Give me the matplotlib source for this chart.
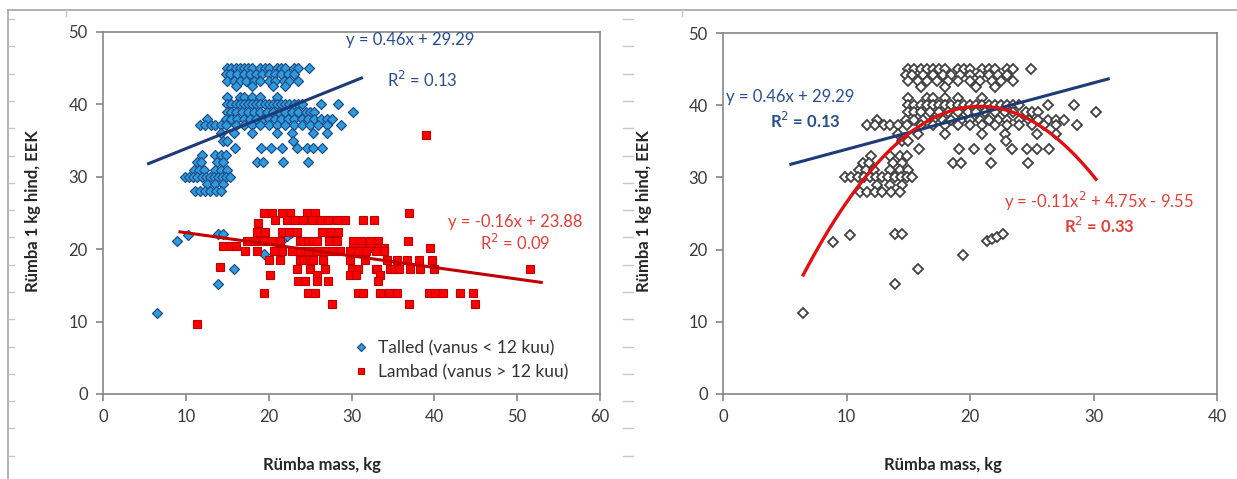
import matplotlib
matplotlib.use('Agg')
import numpy as np
import matplotlib.pyplot as plt
from matplotlib.lines import Line2D

plt.rcParams['font.family'] = ['Lato', 'DejaVu Sans']

# Talled (vanus < 12 kuu): mass kg, price EEK/kg
talled_x = [
    15, 15.5, 16, 16.5, 17, 17.5, 18, 19, 19.5, 20, 21, 21.5, 22, 23, 23.5, 24.9,
    14.8, 15.3, 16.2, 17, 17.8, 18.5, 19.2, 20, 20.8, 21.5, 22.3, 23,
    15, 15.8, 16.5, 17.3, 18.2, 19, 20, 20.8, 21.8, 22.5, 23.5,
    16, 18, 20.5, 22,
    15, 16.5, 17, 18, 19, 21,
    15, 15.5, 16, 16.5, 17, 17.5, 18, 18.5, 19, 19.5, 20, 20.5, 21, 21.5, 22, 22.5, 23, 23.5, 24, 26.3, 28.4,
    15, 15.5, 16, 16.8, 17.5, 18.2, 19, 19.8, 20.5, 21.2, 22, 22.8, 23.5, 24.5, 25, 25.5, 30.2,
    12.5, 14.8, 15.5, 16.2, 17, 17.8, 18.5, 19.3, 20, 20.8, 21.5, 22.3, 23, 24, 24.8, 25.5, 26.3, 27, 27.6,
    11.7, 12.3, 13, 13.5, 14.2, 14.9, 16, 17, 18, 19, 20, 21, 22, 23, 24, 25, 26, 27, 28.7,
    14.2, 15.8, 18, 21, 22.8, 25.4, 27,
    14.5, 15, 22.9,
    15.9, 19.1, 20.3, 21.6, 23.4, 24.6, 25.4, 26.4,
    12, 13.5, 14.3, 14.9,
    11.3, 11.8, 13.8, 14.5, 18.6, 19.3, 21.7, 24.7,
    11, 11.6, 12.2, 13.5, 14.3, 15,
    9.9, 10.4, 10.9, 11.4, 11.9, 12.4, 12.9, 13.4, 13.9, 14.4, 14.9, 15.3,
    12.5, 13.5, 14.5,
    11.1, 11.7, 12.3, 12.9, 13.6, 14.3,
    8.9, 10.3, 13.9, 14.5, 15.8, 13.9, 6.5, 19.4, 21.4, 21.8, 22.2, 22.7,
]
talled_y = (
    [45] * 16 + [44.2] * 12 + [43.3] * 11 + [42.5] * 4 + [41] * 6 + [40] * 21
    + [39] * 17 + [38] * 19 + [37.2] * 19 + [36] * 7 + [35] * 3 + [34] * 8
    + [33] * 4 + [32] * 8 + [31] * 6 + [30] * 12 + [29] * 3 + [28] * 6
    + [21.1, 22, 22.1, 22.1, 17.3, 15.2, 11.2, 19.3, 21.2, 21.5, 21.8, 22.2]
)

# Lambad (vanus > 12 kuu)
lambad_x = [
    19.4, 20.4, 21.6, 22.6, 24.6, 25.6, 36.9,
    18.7,
    20.8, 22.2, 23.2, 24.2, 25.2, 26.2, 27.2, 28.2, 29.2, 31.4, 32.7,
    18.6, 19.6, 21.6, 22.4, 23.4, 26.4, 27.4, 28.4,
    17.4, 18.4, 19.4, 20.4, 21.4, 23.8, 24.2, 24.8, 25.4, 25.8, 27.3, 28.3, 30.2, 31.2, 32.2, 33.2, 36.8,
    14.5, 15.5, 16.1,
    30.2, 31.2, 32.2, 33.2, 33.9, 39.5,
    17.1, 18.6, 20.6, 21.6, 22.8, 23.8, 24.8, 25.8, 26.8, 27.8, 28.6, 29.8, 30.8, 31.8, 32.9, 33.9,
    20, 21.4, 23.8, 24.2, 25, 25.4, 26.6, 29.8, 31.6, 34.3, 35.5, 36.7, 38.1, 39.7,
    23.4, 25, 26.8, 30, 30.8, 32.9, 33.1, 34.7, 35.1, 35.7, 37.1, 38.3, 39.9, 51.6,
    14.1,
    20.2, 25.8, 29.8, 30.6, 33.5,
    23.6, 24.4, 25.8, 27.2, 33.2,
    19.4, 24.8, 25.6, 30.8, 31.4, 33.5, 34.5, 35.5, 39.3, 40.1, 41.1, 43.1, 44.7,
    27.7, 36.9, 44.9,
    11.4, 39.0,
]
lambad_y = (
    [25] * 7 + [23.6] + [24] * 11 + [22.4] * 8 + [21.1] * 17 + [20.5] * 3
    + [20.2] * 6 + [19.7] * 16 + [18.5] * 14 + [17.2] * 14 + [17.6]
    + [16.5] * 5 + [15.6] * 5 + [14] * 13 + [12.5] * 3 + [9.7, 35.8]
)

# trend lines (Excel)
lin_talled = [0.46, 29.29]
lin_lambad = [-0.16, 23.88]
quad_talled = [-0.1142, 4.75, -9.55]
talled_line_x = [5.5, 31.2]
lambad_line_x = [9.3, 52.9]

AX_GRAY = '#868686'
TXT = '#3A3A3A'
BLUE_TXT = '#2A4E8C'
RED_TXT = '#E0403A'


def style_axes(ax, xmax, xstep):
    ax.set_xlim(0, xmax)
    ax.set_ylim(0, 50)
    ax.set_xticks(np.arange(0, xmax + 1, xstep))
    ax.set_yticks(np.arange(0, 51, 10))
    for s in ax.spines.values():
        s.set_color(AX_GRAY)
        s.set_linewidth(1.2)
    ax.tick_params(direction='out', length=5, width=1.2, color=AX_GRAY,
                   labelcolor=TXT, labelsize=12, pad=6)


fig = plt.figure(figsize=(12.37, 4.79), dpi=100)

# worksheet frame and ruler marks
fig.add_artist(Line2D([8 / 1237, 8 / 1237], [0, 1 - 10 / 479], color='#A6A6A6', lw=1.2))
fig.add_artist(Line2D([8 / 1237, 1], [1 - 10 / 479, 1 - 10 / 479], color='#A6A6A6', lw=1.2))
for yy in np.arange(19, 479, 27.3):
    fig.add_artist(Line2D([9 / 1237, 14 / 1237], [1 - yy / 479] * 2, color='#C8C8C8', lw=1))
    fig.add_artist(Line2D([623 / 1237, 633 / 1237], [1 - yy / 479] * 2, color='#C8C8C8', lw=1))
for xx in [66, 682]:
    fig.add_artist(Line2D([xx / 1237] * 2, [1 - 10 / 479, 1 - 16 / 479], color='#C8C8C8', lw=1))

# ---- left panel
ax1 = fig.add_axes([103 / 1237, 1 - 394 / 479, 497 / 1237, 362 / 479])
style_axes(ax1, 60, 10)
ax1.plot(talled_x, talled_y, 'D', ms=5.2, mfc='#2E9BDA', mec='#1F4E8C', mew=0.9,
         label='Talled (vanus < 12 kuu)')
ax1.plot(lambad_x, lambad_y, 's', ms=5.8, mfc='#FF0000', mec='#C00000', mew=0.8,
         label='Lambad (vanus > 12 kuu)')
lx = np.array(talled_line_x)
ax1.plot(lx, np.polyval(lin_talled, lx), color='#1F3A78', lw=2.2)
rx = np.array(lambad_line_x)
ax1.plot(rx, np.polyval(lin_lambad, rx), color='#C00000', lw=2.2)
ax1.text(37.1, 48.9, 'y = 0.46x + 29.29', color=BLUE_TXT, fontsize=12, ha='center', va='center')
ax1.text(38.5, 43.4, 'R$^2$ = 0.13', color=BLUE_TXT, fontsize=12, ha='center', va='center')
ax1.text(49.8, 23.8, 'y = -0.16x + 23.88', color=RED_TXT, fontsize=12, ha='center', va='center')
ax1.text(49.8, 20.9, 'R$^2$ = 0.09', color=RED_TXT, fontsize=12, ha='center', va='center')
ax1.legend(loc='lower left', bbox_to_anchor=(0.46, -0.005), frameon=False, markerscale=0.7,
           fontsize=12.5, handletextpad=0.2, handlelength=1.6, labelspacing=0.45,
           labelcolor='#333333')

# ---- right panel
ax2 = fig.add_axes([723 / 1237, 1 - 394 / 479, 494 / 1237, 361 / 479])
style_axes(ax2, 40, 10)
ax2.plot(talled_x, talled_y, 'D', ms=4.6, mfc='white', mec='#404040', mew=1.3)
ax2.plot(lx, np.polyval(lin_talled, lx), color='#1F3A78', lw=2.2)
qx = np.linspace(min(talled_x), max(talled_x), 100)
ax2.plot(qx, np.polyval(quad_talled, qx), color='#E01010', lw=2.4)
ax2.text(5.4, 41.1, 'y = 0.46x + 29.29', color=BLUE_TXT, fontsize=12, ha='center', va='center')
ax2.text(6.7, 37.8, 'R$^2$ = 0.13', color=BLUE_TXT, fontsize=12, ha='center', va='center',
         fontweight='bold')
ax2.text(30.4, 26.6, 'y = -0.11x$^2$ + 4.75x - 9.55', color=RED_TXT, fontsize=12,
         ha='center', va='center')
ax2.text(30.5, 23.3, 'R$^2$ = 0.33', color=RED_TXT, fontsize=12, ha='center', va='center',
         fontweight='bold')

# axis titles
for cx in [322 / 1237, 943 / 1237]:
    fig.text(cx, 1 - 465 / 479, 'Rümba mass, kg', ha='center', va='center',
             fontsize=12, fontweight='bold', color='#262626')
for cx in [33 / 1237, 644 / 1237]:
    fig.text(cx, 1 - 211 / 479, 'Rümba 1 kg hind, EEK', ha='center', va='center',
             rotation=90, fontsize=12, fontweight='bold', color='#262626')

fig.savefig('out.png', dpi=100, facecolor='white')
